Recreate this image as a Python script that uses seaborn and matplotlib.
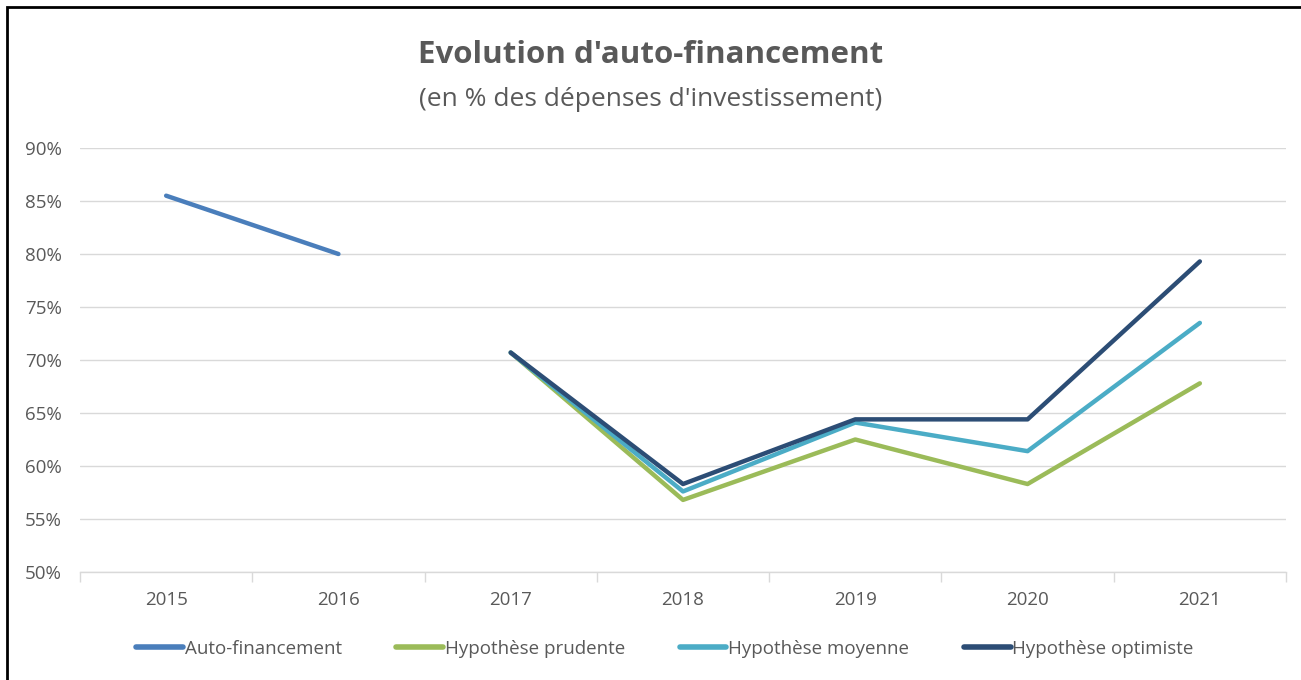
import numpy as np
import pandas as pd
import matplotlib.pyplot as plt
import seaborn as sns
from matplotlib.patches import Rectangle
from matplotlib.ticker import PercentFormatter, FixedLocator

years = ["2015", "2016", "2017", "2018", "2019", "2020", "2021"]
auto_financement = [85.5, 80.0, np.nan, np.nan, np.nan, np.nan, np.nan]
prudente = [np.nan, np.nan, 70.7, 56.8, 62.5, 58.3, 67.8]
moyenne = [np.nan, np.nan, 70.7, 57.6, 64.1, 61.4, 73.5]
optimiste = [np.nan, np.nan, 70.7, 58.3, 64.4, 64.4, 79.3]

series = {
    "Auto-financement": auto_financement,
    "Hypothèse prudente": prudente,
    "Hypothèse moyenne": moyenne,
    "Hypothèse optimiste": optimiste,
}
colors = ["#4A7EBB", "#9BBB59", "#4BACC6", "#2C4D75"]

df = pd.DataFrame(series, index=years).reset_index(names="Année")
df_long = df.melt(id_vars="Année", var_name="Série", value_name="Valeur").dropna()

sns.set_style("white")
plt.rcParams['font.family'] = ['Open Sans', 'DejaVu Sans']

fig = plt.figure(figsize=(13.01, 6.8), dpi=100)
ax = fig.add_axes([80 / 1301, 1 - 572 / 680, (1286 - 80) / 1301, (572 - 148) / 680])

sns.lineplot(data=df_long, x="Année", y="Valeur", hue="Série",
             hue_order=list(series.keys()), palette=colors,
             estimator=None, linewidth=3.2, ax=ax, sort=False)

ax.set_xlim(-0.5, len(years) - 0.5)
ax.set_ylim(50, 90)
ax.set_yticks(range(50, 91, 5))
ax.yaxis.set_major_formatter(PercentFormatter(decimals=0))
ax.grid(axis="y", color="#D9D9D9", linewidth=1)
ax.set_axisbelow(True)
for s in ["top", "right", "left"]:
    ax.spines[s].set_visible(False)
ax.spines["bottom"].set_color("#D9D9D9")
ax.spines["bottom"].set_linewidth(1)
ax.tick_params(axis="both", which="major", length=0, labelsize=13.5,
               labelcolor="#595959")
ax.tick_params(axis="x", pad=14)
ax.tick_params(axis="y", pad=13)
ax.xaxis.set_minor_locator(FixedLocator(np.arange(-0.5, len(years), 1.0)))
ax.tick_params(axis="x", which="minor", bottom=True, length=7,
               color="#D9D9D9", width=1)
ax.set_xlabel("")
ax.set_ylabel("")

leg = ax.legend(loc="upper center", bbox_to_anchor=(0.485, -0.12), ncol=4,
                frameon=False, fontsize=13.5, handlelength=2.5, handletextpad=0.1,
                columnspacing=2.9)
for t in leg.get_texts():
    t.set_color("#595959")
for h in leg.legend_handles:
    h.set_linewidth(4)

fig.text(0.5, 1 - 55 / 680, "Evolution d'auto-financement", ha="center",
         va="center", fontsize=22.5, fontweight="bold", color="#595959")
fig.text(0.5, 1 - 99 / 680, "(en % des dépenses d'investissement)", ha="center",
         va="center", fontsize=19, color="#595959")

fig.patches.append(Rectangle((7 / 1301, -0.01), 1.02, 1 - 7 / 680 + 0.01,
                             transform=fig.transFigure, fill=False,
                             edgecolor="black", linewidth=2))

fig.savefig("out.png", dpi=100)
